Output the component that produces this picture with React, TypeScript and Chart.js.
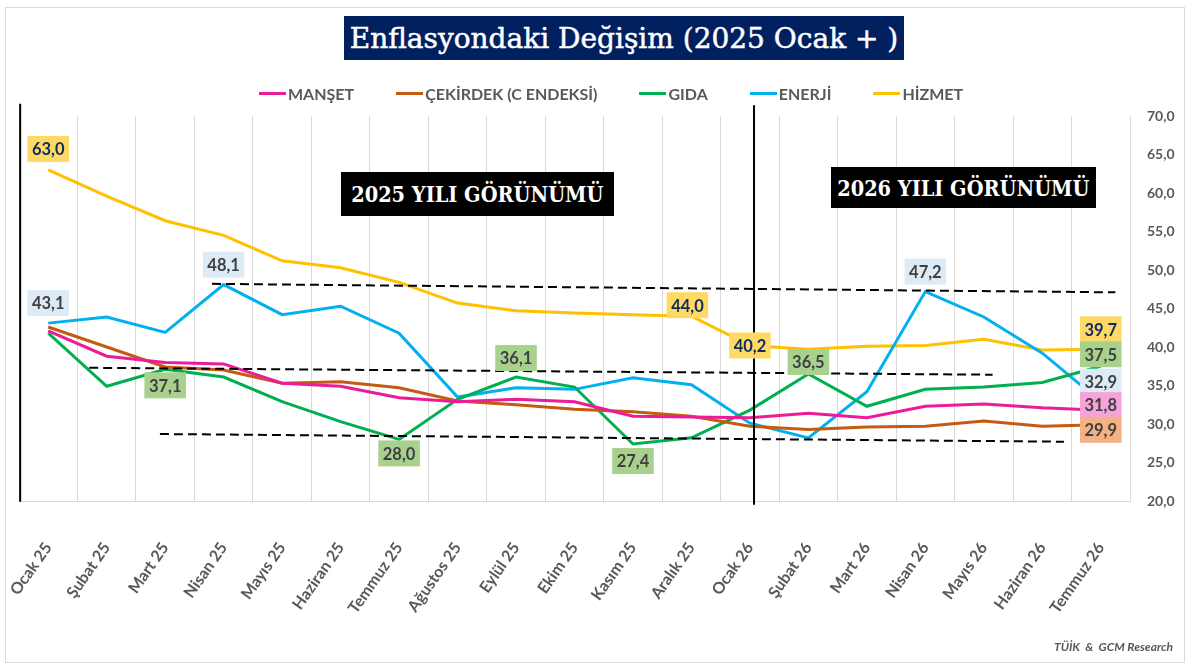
import React, { useEffect, useRef } from 'react';
import { Chart, registerables } from 'chart.js';

Chart.register(...registerables);

// ---------- DATA ----------
const categories = [
  'Ocak 25', 'Şubat 25', 'Mart 25', 'Nisan 25', 'Mayıs 25', 'Haziran 25', 'Temmuz 25',
  'Ağustos 25', 'Eylül 25', 'Ekim 25', 'Kasım 25', 'Aralık 25', 'Ocak 26', 'Şubat 26',
  'Mart 26', 'Nisan 26', 'Mayıs 26', 'Haziran 26', 'Temmuz 26',
];

const seriesNames = ['MANŞET', 'ÇEKİRDEK (C ENDEKSİ)', 'GIDA', 'ENERJİ', 'HİZMET'];

const manset = [42.1, 38.8, 38.0, 37.8, 35.3, 34.9, 33.4, 32.9, 33.2, 32.9, 31.0, 30.9, 30.8, 31.4, 30.8, 32.3, 32.6, 32.1, 31.8];
const cekirdek = [42.6, 40.0, 37.4, 37.0, 35.3, 35.5, 34.7, 33.0, 32.5, 31.9, 31.6, 31.0, 29.7, 29.3, 29.6, 29.7, 30.4, 29.7, 29.9];
const gida = [41.8, 34.9, 37.1, 36.1, 32.9, 30.3, 28.0, 33.2, 36.1, 34.8, 27.4, 28.2, 31.8, 36.5, 32.3, 34.5, 34.8, 35.4, 37.5];
const enerji = [43.1, 43.9, 41.9, 48.1, 44.2, 45.3, 41.8, 33.5, 34.7, 34.5, 36.0, 35.1, 30.1, 28.2, 34.2, 47.2, 43.9, 39.2, 32.9];
const hizmet = [63.0, 59.6, 56.4, 54.5, 51.2, 50.3, 48.4, 45.7, 44.7, 44.4, 44.2, 44.0, 40.2, 39.7, 40.1, 40.2, 41.0, 39.6, 39.7];

const yMin = 20;
const yMax = 70;
const yStep = 5;

// dashed guide lines (category-index position, value)
const guideHigh = [{ x: 2.8, y: 48.2 }, { x: 18.25, y: 47.1 }];
const guideMid = [{ x: 0.7, y: 37.3 }, { x: 16.15, y: 36.4 }];
const guideLow = [{ x: 1.91, y: 28.7 }, { x: 17.37, y: 27.7 }];

// vertical dividers
const dividerStart = [{ x: -0.48, y: 71.6 }, { x: -0.48, y: 19.9 }];
const dividerMid = [{ x: 12.07, y: 71.4 }, { x: 12.07, y: 19.5 }];

// ---------- STYLE ----------
const seriesColors = ['#EC1C99', '#C55A11', '#00B050', '#00B0F0', '#FFC000'];
const GRAY = '#595959';
const fmt = (v: number) => v.toFixed(1).replace('.', ',');

const BOX = {
  yellow: { bg: '#FFD966', color: '#0F2A5E' },
  blue: { bg: '#DDEBF7', color: '#404040' },
  green: { bg: '#A9D18E', color: '#404040' },
  pink: { bg: '#F5A3DA', color: '#404040' },
  orange: { bg: '#F4B183', color: '#404040' },
};

// value boxes: series index, category index, pixel offset from point
const valueBoxes = [
  { s: 4, i: 0, dx: 0, dy: -21, ...BOX.yellow },
  { s: 3, i: 0, dx: 0, dy: -20, ...BOX.blue },
  { s: 3, i: 3, dx: 0, dy: -20, ...BOX.blue },
  { s: 2, i: 2, dx: 0, dy: 16, ...BOX.green },
  { s: 2, i: 6, dx: 0, dy: 14, ...BOX.green },
  { s: 2, i: 8, dx: 0, dy: -19, ...BOX.green },
  { s: 2, i: 10, dx: 0, dy: 17, ...BOX.green },
  { s: 4, i: 11, dx: -4, dy: -11, ...BOX.yellow },
  { s: 4, i: 12, dx: 0, dy: 0, ...BOX.yellow },
  { s: 2, i: 13, dx: 0, dy: -12, ...BOX.green },
  { s: 3, i: 15, dx: 0, dy: -20, ...BOX.blue },
  { s: 4, i: 18, dx: 0, dy: -20, ...BOX.yellow },
  { s: 2, i: 18, dx: 0, dy: -12, ...BOX.green },
  { s: 3, i: 18, dx: 0, dy: -20, ...BOX.blue },
  { s: 0, i: 18, dx: 0, dy: -5, ...BOX.pink },
  { s: 1, i: 18, dx: 0, dy: 5, ...BOX.orange },
];

const valueBoxPlugin = {
  id: 'valueBoxes',
  afterDatasetsDraw(chart: any) {
    const ctx = chart.ctx as CanvasRenderingContext2D;
    ctx.save();
    ctx.font = 'bold 16.5px Lato';
    ctx.textAlign = 'center';
    ctx.textBaseline = 'middle';
    for (const b of valueBoxes) {
      const el = chart.getDatasetMeta(b.s).data[b.i];
      const v = chart.data.datasets[b.s].data[b.i] as number;
      const text = fmt(v);
      const w = ctx.measureText(text).width + 9;
      const h = 26;
      const cx = el.x + b.dx;
      const cy = el.y + b.dy;
      ctx.fillStyle = b.bg;
      ctx.fillRect(cx - w / 2, cy - h / 2, w, h);
      ctx.fillStyle = b.color;
      ctx.fillText(text, cx, cy + 1);
    }
    ctx.restore();
  },
};

export default function App() {
  const ref = useRef<HTMLCanvasElement | null>(null);

  useEffect(() => {
    document.body.style.margin = '0';
    if (!ref.current) return;
    const seriesData = [manset, cekirdek, gida, enerji, hizmet];
    const series = seriesData.map((d, k) => ({
      type: 'line' as const,
      label: seriesNames[k],
      data: d,
      xAxisID: 'x',
      borderColor: seriesColors[k],
      backgroundColor: seriesColors[k],
      borderWidth: 3,
      pointRadius: 0,
      tension: 0,
      order: 2,
    }));
    const guide = (d: any[]) => ({
      type: 'line' as const,
      label: 'guide',
      data: d,
      xAxisID: 'x2',
      borderColor: '#000000',
      borderWidth: 2,
      borderDash: [9, 5],
      pointRadius: 0,
      order: 1,
    });
    const divider = (d: any[]) => ({
      type: 'line' as const,
      label: 'divider',
      data: d,
      xAxisID: 'x2',
      borderColor: '#000000',
      borderWidth: 2,
      pointRadius: 0,
      clip: false as any,
      order: 0,
    });

    const chart = new Chart(ref.current, {
      type: 'line',
      data: {
        labels: categories,
        datasets: [
          ...series,
          guide(guideHigh),
          guide(guideMid),
          guide(guideLow),
          divider(dividerStart),
          divider(dividerMid),
        ] as any,
      },
      options: {
        animation: false,
        responsive: false,
        layout: { padding: { left: 19, right: 0, top: 116, bottom: 0 } },
        plugins: {
          legend: { display: false },
          tooltip: { enabled: false },
          title: { display: false },
        },
        scales: {
          x: {
            type: 'category',
            offset: true,
            grid: { display: true, color: '#D9D9D9', lineWidth: 1, drawTicks: false, offset: true },
            border: { display: true, color: '#D9D9D9' },
            ticks: {
              autoSkip: false,
              minRotation: 55,
              maxRotation: 55,
              padding: 38,
              color: GRAY,
              font: { family: 'Lato', weight: 'bold', size: 16 },
            },
            afterFit(s: any) {
              s.height = 169;
              s.paddingLeft = 0;
              s.paddingRight = 0;
            },
          },
          x2: { type: 'linear', display: false, min: -0.5, max: 18.5 },
          y: {
            position: 'right',
            min: yMin,
            max: yMax,
            grid: { display: false, drawTicks: false },
            border: { display: false },
            ticks: {
              stepSize: yStep,
              padding: 17,
              color: GRAY,
              font: { family: 'Lato', weight: 'bold', size: 14 },
              callback: (v: any) => fmt(Number(v)),
            },
            afterFit(s: any) {
              s.width = 60;
            },
          },
        },
      } as any,
      plugins: [valueBoxPlugin],
    });
    return () => chart.destroy();
  }, []);

  const serif = '"DejaVu Serif", "Liberation Serif", serif';
  const periodText: React.CSSProperties = {
    display: 'inline-block',
    fontFamily: serif,
    fontWeight: 700,
    fontSize: 22,
    transform: 'scaleX(0.88)',
    whiteSpace: 'nowrap',
  };

  return (
    <div style={{ position: 'absolute', left: 0, top: 0, width: 1190, height: 670, background: '#fff', overflow: 'hidden', fontFamily: 'Lato, sans-serif' }}>
      <div style={{ position: 'absolute', left: 5, top: 7, width: 1178, height: 654, border: '1px solid #D9D9D9' }} />
      <canvas ref={ref} width={1190} height={670} style={{ position: 'absolute', left: 0, top: 0, width: 1190, height: 670 }} />
      {/* title */}
      <div style={{ position: 'absolute', left: 344, top: 16, width: 560, height: 44, background: '#002060', color: '#fff', display: 'flex', alignItems: 'center', justifyContent: 'center', fontFamily: serif, fontSize: 28, whiteSpace: 'nowrap', WebkitTextStroke: '0.5px #fff' }}>
        Enflasyondaki Değişim (2025 Ocak + )
      </div>
      {/* legend */}
      <div style={{ position: 'absolute', left: 259, top: 83, height: 20, display: 'flex', alignItems: 'center' }}>
        {seriesNames.map((n, k) => (
          <div key={n} style={{ display: 'flex', alignItems: 'center', marginRight: 42 }}>
            <div style={{ width: 27, height: 3, background: seriesColors[k] }} />
            <span style={{ marginLeft: 2, color: GRAY, fontWeight: 700, fontSize: 16, whiteSpace: 'nowrap' }}>{n}</span>
          </div>
        ))}
      </div>
      {/* period boxes */}
      <div style={{ position: 'absolute', left: 341, top: 172, width: 273, height: 44, background: '#000', color: '#fff', display: 'flex', alignItems: 'center', justifyContent: 'center' }}>
        <span style={periodText}>2025 YILI GÖRÜNÜMÜ</span>
      </div>
      <div style={{ position: 'absolute', left: 831, top: 167, width: 265, height: 41, background: '#000', color: '#fff', display: 'flex', alignItems: 'center', justifyContent: 'center' }}>
        <span style={periodText}>2026 YILI GÖRÜNÜMÜ</span>
      </div>
      {/* source */}
      <div style={{ position: 'absolute', right: 17, top: 639, color: GRAY, fontStyle: 'italic', fontWeight: 700, fontSize: 12, whiteSpace: 'pre' }}>
        TÜİK  &amp;  GCM Research
      </div>
    </div>
  );
}
